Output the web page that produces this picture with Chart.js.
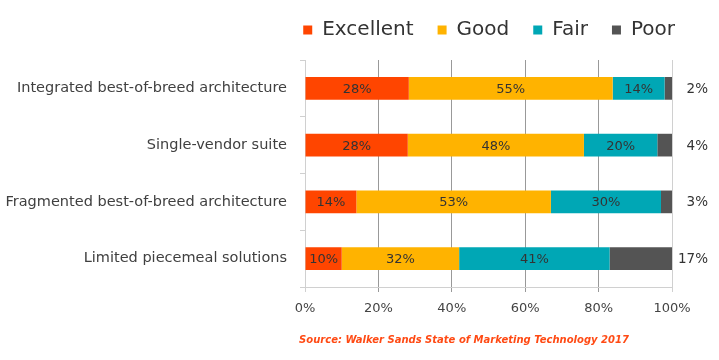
<!DOCTYPE html>
<html>
<head>
<meta charset="utf-8">
<script src="https://cdn.jsdelivr.net/npm/chart.js@4/dist/chart.umd.min.js"></script>
<style>
html,body{margin:0;padding:0;background:#fff;}
#wrap{width:719px;height:360px;position:relative;}
</style>
</head>
<body>
<div id="wrap"><canvas id="c"></canvas></div>
<script>
const categories = ["Integrated best-of-breed architecture", "Single-vendor suite", "Fragmented best-of-breed architecture", "Limited piecemeal solutions"];
const seriesNames = ["Excellent", "Good", "Fair", "Poor"];
const excellent = [28, 28, 14, 10];
const good = [55, 48, 53, 32];
const fair = [14, 20, 30, 41];
const poor = [2, 4, 3, 17];
const xTickValues = [0, 20, 40, 60, 80, 100];
const sourceText = "Source: Walker Sands State of Marketing Technology 2017";

const colors = ["#FF4500", "#FFB300", "#00A7B5", "#545454"];
const FONT = '"DejaVu Sans", sans-serif';

const raw = [excellent, good, fair, poor];
const totals = categories.map((_, i) => raw.reduce((s, a) => s + a[i], 0));
const share = arr => arr.map((v, i) => v / totals[i] * 100);

const labelPlugin = {
  id: 'segLabels',
  afterLayout(chart) {
    const lg = chart.legend;
    if (lg) {
      lg.left += 27; lg.right += 27;
      lg.top -= 10; lg.bottom -= 10;
    }
  },
  afterDatasetsDraw(chart) {
    const ctx = chart.ctx;
    ctx.save();
    ctx.textBaseline = 'middle';
    chart.data.datasets.forEach((ds, di) => {
      const meta = chart.getDatasetMeta(di);
      meta.data.forEach((bar, i) => {
        const txt = ds.rawValues[i] + '%';
        if (di === 3) {
          ctx.font = '13.5px ' + FONT;
          ctx.fillStyle = '#333';
          ctx.textAlign = 'right';
          ctx.fillText(txt, chart.chartArea.right + 36, bar.y + 1);
        } else {
          ctx.font = '13px ' + FONT;
          ctx.fillStyle = '#333';
          ctx.textAlign = 'center';
          ctx.fillText(txt, (bar.x + bar.base) / 2, bar.y + 1);
        }
      });
    });
    ctx.restore();
  },
  afterDraw(chart) {
    const ctx = chart.ctx;
    ctx.save();
    ctx.font = 'italic bold 10px ' + FONT;
    ctx.fillStyle = '#FF4A14';
    ctx.textAlign = 'center';
    ctx.textBaseline = 'middle';
    ctx.fillText(sourceText, 464, 340);
    ctx.restore();
  }
};

new Chart(document.getElementById('c'), {
  type: 'bar',
  data: {
    labels: categories,
    datasets: raw.map((arr, i) => ({
      label: seriesNames[i],
      data: share(arr),
      rawValues: arr,
      backgroundColor: colors[i],
      borderWidth: 0,
      categoryPercentage: 1,
      barPercentage: 0.4
    }))
  },
  options: {
    indexAxis: 'y',
    responsive: true,
    maintainAspectRatio: false,
    animation: false,
    layout: { padding: { left: 0, right: 47, top: 6, bottom: 0 } },
    plugins: {
      legend: {
        position: 'top',
        align: 'end',
        labels: {
          boxWidth: 9,
          boxHeight: 9,
          padding: 24,
          color: '#333',
          font: { family: FONT, size: 20 }
        }
      },
      tooltip: { enabled: false }
    },
    scales: {
      x: {
        stacked: true,
        min: 0,
        max: 100,
        afterBuildTicks: s => { s.ticks = xTickValues.map(v => ({ value: v })); },
        ticks: {
          callback: v => v + '%',
          color: '#444',
          font: { family: FONT, size: 13 },
          padding: 9
        },
        grid: {
          color: c => (c.index > 0 && c.index < 5) ? '#999' : '#d0d0d0',
          tickColor: c => (c.index > 0 && c.index < 5) ? '#999' : '#d0d0d0',
          tickLength: 5,
          lineWidth: 1
        },
        border: { color: '#d0d0d0' },
        afterFit: s => { s.height = 73; }
      },
      y: {
        stacked: true,
        ticks: {
          color: '#404040',
          font: { family: FONT, size: 14.5 },
          padding: 13
        },
        grid: {
          offset: true,
          drawOnChartArea: false,
          tickLength: 5,
          color: '#d0d0d0'
        },
        border: { color: '#d0d0d0' },
        afterFit: s => { s.width = 305; }
      }
    }
  },
  plugins: [labelPlugin]
});
</script>
</body>
</html>
